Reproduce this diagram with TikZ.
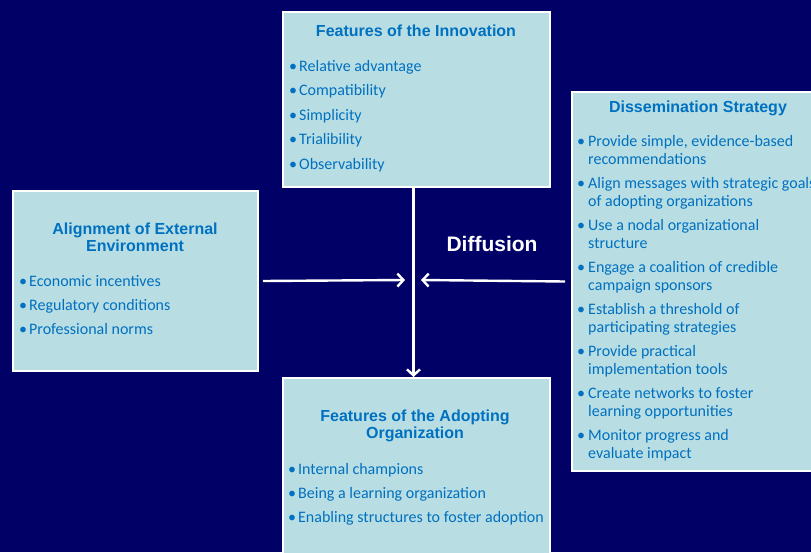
\documentclass[tikz,border=0pt]{standalone}
\usepackage{fontspec}
\setmainfont{Carlito}
\newfontfamily\titlefont{Liberation Sans}
\usetikzlibrary{arrows.meta,positioning}

\definecolor{navy}{RGB}{0,0,102}
\definecolor{boxfill}{RGB}{184,222,227}
\definecolor{textblue}{RGB}{0,112,192}
\newcommand{\itembullet}{\makebox[10pt][l]{\textbullet}}

\begin{document}
\begin{tikzpicture}[x=1pt,y=-1pt,
  box/.style={draw=white,line width=2pt,fill=boxfill,anchor=north west,inner sep=0pt},
  heading/.style={font=\titlefont\bfseries\fontsize{16}{17}\selectfont,text=textblue,align=center,inner sep=0pt},
  point/.style={font=\fontsize{16}{18}\selectfont,text=textblue,align=left,inner sep=0pt},
  flow/.style={draw=white,line width=2.4pt,-{Straight Barb[length=6pt,width=13pt]}}]

\useasboundingbox (0,0) rectangle (811,552);
\fill[navy] (0,0) rectangle (811,552);
\clip (0,0) rectangle (811,552);

% the four boxes
\node[box,minimum width=267pt,minimum height=175pt] (innov) at (282,11) {};
\node[box,minimum width=245pt,minimum height=180pt] (extern) at (12,190) {};
\node[box,minimum width=262pt,minimum height=379pt] (dissem) at (571,91) {};
\node[box,minimum width=267pt,minimum height=200pt] (adopt) at (282,377) {};

% headings
\node[heading] (innov-title) at (416,31) {Features of the Innovation};
\node[heading] (extern-title) at (135,237) {Alignment of External\\Environment};
\node[heading] (dissem-title) at (698,108) {Dissemination Strategy};
\node[heading] (adopt-title) at (415,426) {Features of the Adopting\\Organization};

% bullet points
\foreach \txt [count=\i from 0] in {Relative advantage,Compatibility,Simplicity,Trialibility,Observability}
  \node[point,anchor=base west] (innov-\i) at (289,71+24.5*\i) {\itembullet\txt};

\foreach \txt [count=\i from 0] in {Economic incentives,Regulatory conditions,Professional norms}
  \node[point,anchor=base west] (extern-\i) at (19,286+24*\i) {\itembullet\txt};

\foreach \txt [count=\i from 0] in {Internal champions,Being a learning organization,Enabling structures to foster adoption}
  \node[point,anchor=base west] (adopt-\i) at (288,474+24*\i) {\itembullet\txt};

\foreach \first/\second [count=\i from 0] in {
    {Provide simple, evidence-based}/recommendations,
    Align messages with strategic goals/of adopting organizations,
    Use a nodal organizational/structure,
    Engage a coalition of credible/campaign sponsors,
    Establish a threshold of/participating strategies,
    Provide practical/implementation tools,
    Create networks to foster/learning opportunities,
    Monitor progress and/evaluate impact}
  \node[point,anchor=north west] (dissem-\i) at (577,135+42*\i) {\makebox[11pt][l]{\textbullet}\first\\\hspace*{11pt}\second};

% diffusion
\coordinate (hubW) at (405,280);
\coordinate (hubE) at (421,280);
\node[font=\titlefont\bfseries\fontsize{21}{22}\selectfont,text=white] (diff) at (492,244) {Diffusion};
\draw[flow] ([xshift=4pt]extern.east) -- (hubW);
\draw[flow] ([xshift=-6pt]dissem.west) -- (hubE);
\draw[flow] ([xshift=-3pt]innov.south) -- ([xshift=-3pt]adopt.north);
\end{tikzpicture}
\end{document}
